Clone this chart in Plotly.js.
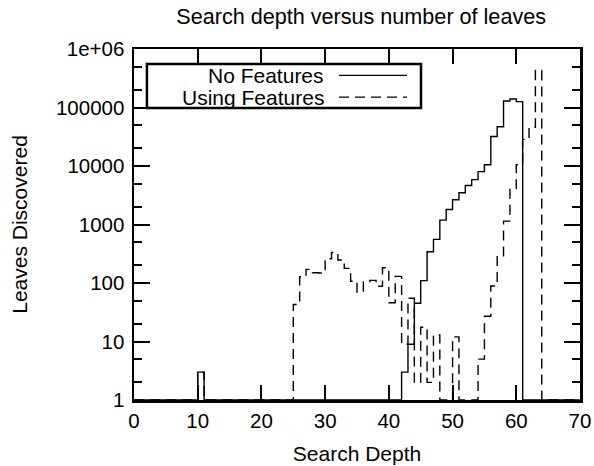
<!DOCTYPE html>
<html>
<head>
<meta charset="utf-8">
<script src="https://cdn.plot.ly/plotly-3.0.1.min.js"></script>
<style>
  html, body { margin: 0; padding: 0; background: #fff; }
  #chart { width: 594px; height: 466px; }
</style>
</head>
<body>
<div id="chart"></div>
<script>
// ---- data ----
const seriesNames = ["No Features", "Using Features"];

const noFeaturesDepth  = [0, 10, 11, 42, 43, 44, 45, 46, 47, 48, 49, 50, 51, 52, 53, 54, 55, 56, 57, 58, 59, 60, 61, 70];
const noFeaturesLeaves = [1, 3, 1, 3, 9, 45, 110, 343, 557, 1190, 1800, 2650, 3480, 4650, 5850, 8000, 10500, 32000, 47000, 129000, 140000, 126000, 1, 1];

const usingFeaturesDepth  = [0, 10, 11, 25, 26, 27, 28, 29, 30, 31, 32, 33, 34, 35, 36, 37, 38, 39, 40, 41, 42, 43, 44, 45, 46, 47, 48, 50, 51, 54, 55, 56, 57, 58, 59, 60, 61, 62, 63, 64, 70];
const usingFeaturesLeaves = [1, 3, 1, 43, 128, 171, 150, 148, 260, 332, 247, 178, 107, 70, 105, 111, 88, 182, 46, 130, 9, 55, 2, 17.5, 2, 13, 1, 12, 1, 5, 27, 89, 291, 1140, 4100, 10500, 28500, 46000, 428000, 1, 1];

const xTickVals = [0, 10, 20, 30, 40, 50, 60, 70];
const yTickVals = [1, 10, 100, 1000, 10000, 100000, 1000000];
const yTickText = ["1", "10", "100", "1000", "10000", "100000", "1e+06"];

// ---- styling ----
const FONT = "Liberation Sans, Arial, Helvetica, sans-serif";
const dashPattern = "10px,6px";

const traces = [
  {
    x: noFeaturesDepth, y: noFeaturesLeaves, name: seriesNames[0],
    type: "scatter", mode: "lines",
    line: { shape: "hv", color: "#000", width: 1.4, dash: "solid" },
    showlegend: false, hoverinfo: "skip"
  },
  {
    x: usingFeaturesDepth, y: usingFeaturesLeaves, name: seriesNames[1],
    type: "scatter", mode: "lines",
    line: { shape: "hv", color: "#000", width: 1.4, dash: dashPattern },
    showlegend: false, hoverinfo: "skip"
  }
];

// custom gnuplot-style legend (text right-aligned, sample line at right)
const legendBox = { x0: 0.029, x1: 0.6435, y0: 0.832, y1: 0.957 };
const legendTextX = 0.4305;
const legendLineX = [0.4596, 0.6121];
const legendRowY = [0.925, 0.863];

const shapes = [
  { type: "rect", xref: "paper", yref: "paper",
    x0: legendBox.x0, x1: legendBox.x1, y0: legendBox.y0, y1: legendBox.y1,
    line: { color: "#000", width: 2.5 }, fillcolor: "rgba(0,0,0,0)" }
];
const annotations = [];
traces.forEach((t, i) => {
  shapes.push({ type: "line", xref: "paper", yref: "paper",
    x0: legendLineX[0], x1: legendLineX[1], y0: legendRowY[i], y1: legendRowY[i],
    line: { color: "#000", width: 1.4, dash: t.line.dash } });
  annotations.push({ xref: "paper", yref: "paper", x: legendTextX, y: legendRowY[i],
    xanchor: "right", yanchor: "middle", showarrow: false, text: t.name,
    font: { family: FONT, size: 21, color: "#000" } });
});

const layout = {
  width: 594, height: 466,
  margin: { l: 134, r: 14, t: 49, b: 66 },
  paper_bgcolor: "#fff", plot_bgcolor: "#fff",
  font: { family: FONT, color: "#000", size: 20.5 },
  title: {
    text: "Search depth versus number of leaves",
    font: { family: FONT, size: 21.6, color: "#000" },
    xref: "container", x: 0.608, xanchor: "center",
    yref: "container", y: 0.964, yanchor: "middle"
  },
  xaxis: {
    range: [0, 70], tickmode: "array", tickvals: xTickVals,
    ticks: "inside", ticklen: 15, tickwidth: 2, tickcolor: "#000",
    showline: true, linewidth: 2.5, linecolor: "#000", mirror: "ticks",
    showgrid: false, zeroline: false,
    ticklabelstandoff: 1,
    tickfont: { family: FONT, size: 20.5, color: "#000" },
    title: { text: "Search Depth", font: { family: FONT, size: 21, color: "#000" }, standoff: 15 }
  },
  yaxis: {
    type: "log", range: [0, 6], tickmode: "array", tickvals: yTickVals, ticktext: yTickText,
    ticks: "inside", ticklen: 16, tickwidth: 2, tickcolor: "#000",
    minor: { dtick: "D2", ticks: "inside", ticklen: 8, tickwidth: 2, tickcolor: "#000", showgrid: false },
    showline: true, linewidth: 2.5, linecolor: "#000", mirror: "ticks",
    showgrid: false, zeroline: false,
    ticklabelstandoff: 3,
    tickfont: { family: FONT, size: 20.5, color: "#000" },
    title: { text: "Leaves Discovered", font: { family: FONT, size: 21, color: "#000" }, standoff: 23 }
  },
  shapes: shapes,
  annotations: annotations,
  showlegend: false
};

Plotly.newPlot("chart", traces, layout, { displayModeBar: false, staticPlot: true });
</script>
</body>
</html>
